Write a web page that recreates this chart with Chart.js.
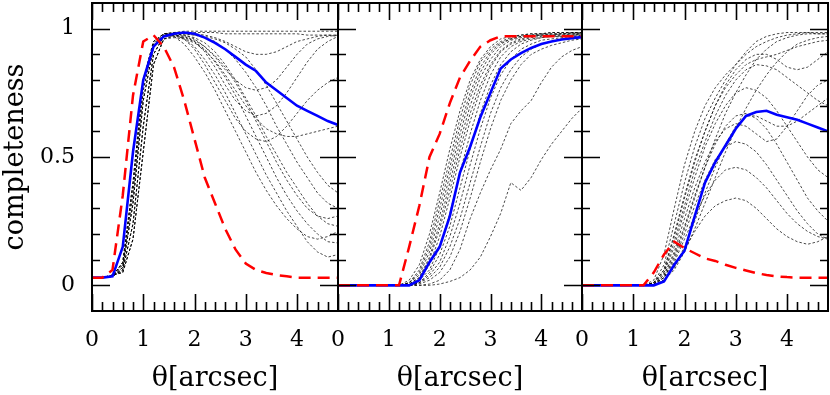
<!DOCTYPE html>
<html>
<head>
<meta charset="utf-8">
<script src="https://cdn.jsdelivr.net/npm/chart.js@4/dist/chart.umd.min.js"></script>
<style>
  html, body { margin: 0; padding: 0; background: #fff; }
  #wrap { position: relative; width: 830px; height: 395px; overflow: hidden; }
  canvas { position: absolute; top: 0; }
</style>
</head>
<body>
<div id="wrap">
  <canvas id="p1" width="356" height="395" style="left:0px"></canvas>
  <canvas id="p2" width="280" height="395" style="left:320px"></canvas>
  <canvas id="p3" width="266" height="395" style="left:564px"></canvas>
</div>
<script>
// separation grid (arcsec)
const X = [0, 0.2, 0.4, 0.6, 0.8, 1, 1.2, 1.4, 1.6, 1.8, 2, 2.2, 2.4, 2.6, 2.8, 3, 3.2, 3.4, 3.6, 3.8, 4, 4.2, 4.4, 4.6, 4.8];

const X_TICKS = [0, 1, 2, 3, 4];
const X_MINOR = [0, 0.2, 0.4, 0.6, 0.8, 1, 1.2, 1.4, 1.6, 1.8, 2, 2.2, 2.4, 2.6, 2.8, 3, 3.2, 3.4, 3.6, 3.8, 4, 4.2, 4.4, 4.6];
const Y_TICKS = [0, 0.5, 1];
const Y_MINOR = [0, 0.1, 0.2, 0.3, 0.4, 0.5, 0.6, 0.7, 0.8, 0.9, 1];

// panel 1
const P1_RED = [0.03, 0.03, 0.06, 0.35, 0.74, 0.95, 0.975, 0.93, 0.85, 0.72, 0.57, 0.42, 0.32, 0.22, 0.14, 0.085, 0.06, 0.048, 0.04, 0.035, 0.03, 0.03, 0.03, 0.03, 0.03];
const P1_BLUE = [0.03, 0.03, 0.035, 0.15, 0.52, 0.80, 0.93, 0.97, 0.98, 0.985, 0.98, 0.965, 0.945, 0.92, 0.89, 0.86, 0.835, 0.79, 0.76, 0.73, 0.70, 0.68, 0.66, 0.64, 0.625];
const P1_DOTTED = [
  [0.03, 0.03, 0.035, 0.09, 0.40, 0.80, 0.95, 0.98, 0.985, 0.99, 0.99, 0.99, 0.99, 0.99, 0.99, 0.99, 0.99, 0.99, 0.99, 0.99, 0.99, 0.99, 0.99, 0.99, 0.99],
  [0.03, 0.03, 0.035, 0.06, 0.24, 0.62, 0.90, 0.97, 0.98, 0.985, 0.985, 0.985, 0.985, 0.98, 0.98, 0.98, 0.98, 0.98, 0.98, 0.98, 0.98, 0.975, 0.975, 0.975, 0.97],
  [0.03, 0.03, 0.035, 0.07, 0.32, 0.72, 0.93, 0.975, 0.985, 0.985, 0.98, 0.975, 0.965, 0.95, 0.93, 0.91, 0.90, 0.90, 0.91, 0.93, 0.95, 0.96, 0.97, 0.975, 0.975],
  [0.03, 0.03, 0.04, 0.08, 0.36, 0.76, 0.94, 0.98, 0.98, 0.975, 0.96, 0.93, 0.89, 0.84, 0.80, 0.77, 0.76, 0.77, 0.80, 0.85, 0.90, 0.94, 0.96, 0.97, 0.975],
  [0.03, 0.03, 0.04, 0.05, 0.18, 0.52, 0.86, 0.96, 0.975, 0.97, 0.95, 0.91, 0.85, 0.78, 0.72, 0.68, 0.66, 0.67, 0.70, 0.75, 0.81, 0.87, 0.92, 0.95, 0.97],
  [0.03, 0.03, 0.035, 0.09, 0.40, 0.80, 0.95, 0.98, 0.98, 0.96, 0.92, 0.86, 0.79, 0.72, 0.65, 0.60, 0.57, 0.56, 0.58, 0.62, 0.67, 0.72, 0.76, 0.79, 0.81],
  [0.03, 0.03, 0.035, 0.07, 0.32, 0.72, 0.93, 0.975, 0.97, 0.94, 0.89, 0.83, 0.76, 0.68, 0.60, 0.52, 0.44, 0.37, 0.31, 0.26, 0.22, 0.19, 0.18, 0.19, 0.21],
  [0.03, 0.03, 0.035, 0.06, 0.24, 0.62, 0.90, 0.97, 0.975, 0.96, 0.93, 0.88, 0.82, 0.75, 0.67, 0.59, 0.51, 0.43, 0.36, 0.29, 0.23, 0.17, 0.13, 0.11, 0.12],
  [0.03, 0.03, 0.04, 0.05, 0.18, 0.52, 0.86, 0.96, 0.97, 0.965, 0.95, 0.92, 0.87, 0.81, 0.74, 0.66, 0.58, 0.50, 0.42, 0.35, 0.29, 0.24, 0.20, 0.17, 0.165],
  [0.03, 0.03, 0.04, 0.08, 0.36, 0.76, 0.94, 0.98, 0.98, 0.975, 0.965, 0.945, 0.91, 0.86, 0.80, 0.73, 0.66, 0.58, 0.51, 0.44, 0.38, 0.32, 0.27, 0.24, 0.23],
  [0.03, 0.03, 0.035, 0.09, 0.40, 0.80, 0.95, 0.98, 0.985, 0.98, 0.975, 0.965, 0.95, 0.92, 0.88, 0.83, 0.77, 0.70, 0.62, 0.55, 0.48, 0.42, 0.36, 0.32, 0.30],
  [0.03, 0.03, 0.035, 0.07, 0.32, 0.72, 0.93, 0.975, 0.98, 0.98, 0.975, 0.97, 0.96, 0.945, 0.92, 0.89, 0.84, 0.78, 0.71, 0.64, 0.57, 0.50, 0.44, 0.39, 0.36],
  [0.03, 0.03, 0.035, 0.06, 0.24, 0.62, 0.90, 0.97, 0.975, 0.97, 0.955, 0.93, 0.895, 0.85, 0.79, 0.72, 0.64, 0.56, 0.48, 0.41, 0.35, 0.30, 0.27, 0.26, 0.27],
  [0.03, 0.03, 0.04, 0.05, 0.18, 0.52, 0.86, 0.96, 0.965, 0.96, 0.945, 0.915, 0.875, 0.82, 0.76, 0.70, 0.65, 0.61, 0.59, 0.58, 0.58, 0.59, 0.60, 0.61, 0.62]
];

// panel 2
const P2_RED = [0, 0, 0, 0, 0, 0, 0, 0.15, 0.31, 0.50, 0.59, 0.71, 0.81, 0.875, 0.93, 0.955, 0.97, 0.97, 0.97, 0.97, 0.97, 0.97, 0.97, 0.97, 0.97];
const P2_BLUE = [0, 0, 0, 0, 0, 0, 0, 0, 0.02, 0.09, 0.15, 0.27, 0.44, 0.54, 0.655, 0.75, 0.845, 0.88, 0.905, 0.925, 0.94, 0.95, 0.958, 0.963, 0.967];
const P2_DOTTED = [
  [0, 0, 0, 0, 0, 0, 0, 0.02, 0.08, 0.20, 0.36, 0.53, 0.68, 0.80, 0.88, 0.93, 0.96, 0.97, 0.975, 0.98, 0.98, 0.985, 0.985, 0.985, 0.985],
  [0, 0, 0, 0, 0, 0, 0, 0.01, 0.06, 0.17, 0.33, 0.49, 0.65, 0.78, 0.87, 0.92, 0.95, 0.965, 0.975, 0.98, 0.98, 0.985, 0.985, 0.985, 0.985],
  [0, 0, 0, 0, 0, 0, 0, 0.01, 0.05, 0.15, 0.30, 0.46, 0.62, 0.75, 0.85, 0.91, 0.945, 0.96, 0.97, 0.975, 0.98, 0.98, 0.98, 0.985, 0.985],
  [0, 0, 0, 0, 0, 0, 0, 0.01, 0.04, 0.13, 0.27, 0.43, 0.59, 0.73, 0.83, 0.90, 0.94, 0.96, 0.97, 0.975, 0.975, 0.98, 0.98, 0.98, 0.98],
  [0, 0, 0, 0, 0, 0, 0, 0.005, 0.03, 0.11, 0.24, 0.40, 0.56, 0.70, 0.81, 0.88, 0.93, 0.955, 0.965, 0.97, 0.975, 0.975, 0.98, 0.98, 0.98],
  [0, 0, 0, 0, 0, 0, 0, 0.005, 0.03, 0.10, 0.22, 0.37, 0.53, 0.67, 0.78, 0.86, 0.915, 0.945, 0.96, 0.97, 0.975, 0.975, 0.975, 0.98, 0.98],
  [0, 0, 0, 0, 0, 0, 0, 0.005, 0.02, 0.08, 0.19, 0.34, 0.50, 0.64, 0.76, 0.85, 0.91, 0.94, 0.955, 0.965, 0.97, 0.975, 0.975, 0.975, 0.98],
  [0, 0, 0, 0, 0, 0, 0, 0, 0.02, 0.06, 0.15, 0.28, 0.44, 0.59, 0.72, 0.82, 0.89, 0.93, 0.95, 0.96, 0.965, 0.97, 0.97, 0.975, 0.975],
  [0, 0, 0, 0, 0, 0, 0, 0, 0.01, 0.05, 0.12, 0.23, 0.38, 0.53, 0.67, 0.78, 0.86, 0.91, 0.94, 0.955, 0.965, 0.97, 0.97, 0.97, 0.975],
  [0, 0, 0, 0, 0, 0, 0, 0, 0.01, 0.04, 0.09, 0.19, 0.32, 0.47, 0.61, 0.73, 0.82, 0.88, 0.92, 0.94, 0.955, 0.96, 0.965, 0.97, 0.97],
  [0, 0, 0, 0, 0, 0, 0, 0, 0.01, 0.03, 0.07, 0.15, 0.26, 0.40, 0.54, 0.67, 0.77, 0.84, 0.89, 0.92, 0.94, 0.95, 0.96, 0.965, 0.965],
  [0, 0, 0, 0, 0, 0, 0, 0, 0.005, 0.02, 0.05, 0.11, 0.21, 0.34, 0.48, 0.61, 0.72, 0.80, 0.86, 0.90, 0.92, 0.935, 0.945, 0.955, 0.96],
  [0, 0, 0, 0, 0, 0, 0, 0, 0, 0.005, 0.02, 0.06, 0.14, 0.26, 0.36, 0.45, 0.53, 0.63, 0.68, 0.72, 0.79, 0.85, 0.89, 0.915, 0.93],
  [0, 0, 0, 0, 0, 0, 0, 0, 0, 0, 0.005, 0.015, 0.03, 0.06, 0.11, 0.19, 0.28, 0.40, 0.37, 0.42, 0.49, 0.55, 0.60, 0.65, 0.69]
];

// panel 3
const P3_RED = [0, 0, 0, 0, 0, 0, 0, 0.05, 0.12, 0.17, 0.145, 0.125, 0.105, 0.095, 0.08, 0.068, 0.058, 0.048, 0.04, 0.035, 0.032, 0.03, 0.03, 0.03, 0.03];
const P3_BLUE = [0, 0, 0, 0, 0, 0, 0, 0, 0.015, 0.08, 0.135, 0.27, 0.40, 0.48, 0.545, 0.61, 0.66, 0.675, 0.68, 0.665, 0.655, 0.645, 0.63, 0.615, 0.60];
const P3_DOTTED = [
  [0, 0, 0, 0, 0, 0, 0, 0.02, 0.12, 0.30, 0.47, 0.60, 0.70, 0.77, 0.82, 0.86, 0.91, 0.95, 0.97, 0.98, 0.985, 0.985, 0.985, 0.98, 0.98],
  [0, 0, 0, 0, 0, 0, 0, 0.01, 0.08, 0.24, 0.40, 0.54, 0.65, 0.73, 0.80, 0.86, 0.90, 0.93, 0.95, 0.965, 0.975, 0.98, 0.985, 0.985, 0.985],
  [0, 0, 0, 0, 0, 0, 0, 0.01, 0.06, 0.20, 0.35, 0.49, 0.60, 0.70, 0.77, 0.82, 0.86, 0.88, 0.89, 0.90, 0.915, 0.93, 0.94, 0.95, 0.955],
  [0, 0, 0, 0, 0, 0, 0, 0.01, 0.05, 0.17, 0.31, 0.45, 0.56, 0.66, 0.74, 0.80, 0.84, 0.86, 0.855, 0.84, 0.81, 0.78, 0.75, 0.72, 0.70],
  [0, 0, 0, 0, 0, 0, 0, 0.01, 0.05, 0.15, 0.29, 0.42, 0.54, 0.63, 0.70, 0.75, 0.77, 0.76, 0.73, 0.68, 0.62, 0.56, 0.50, 0.45, 0.42],
  [0, 0, 0, 0, 0, 0, 0, 0.005, 0.04, 0.13, 0.26, 0.38, 0.48, 0.56, 0.61, 0.63, 0.62, 0.59, 0.56, 0.57, 0.62, 0.68, 0.74, 0.78, 0.80],
  [0, 0, 0, 0, 0, 0, 0, 0.005, 0.04, 0.12, 0.23, 0.35, 0.46, 0.55, 0.62, 0.66, 0.67, 0.65, 0.61, 0.55, 0.48, 0.41, 0.34, 0.29, 0.25],
  [0, 0, 0, 0, 0, 0, 0, 0.005, 0.03, 0.10, 0.20, 0.31, 0.41, 0.49, 0.54, 0.56, 0.55, 0.52, 0.47, 0.41, 0.35, 0.29, 0.24, 0.20, 0.18],
  [0, 0, 0, 0, 0, 0, 0, 0.005, 0.03, 0.09, 0.18, 0.27, 0.35, 0.41, 0.45, 0.46, 0.45, 0.42, 0.38, 0.33, 0.28, 0.24, 0.21, 0.19, 0.18],
  [0, 0, 0, 0, 0, 0, 0, 0.005, 0.02, 0.07, 0.14, 0.21, 0.27, 0.31, 0.33, 0.34, 0.33, 0.30, 0.26, 0.22, 0.19, 0.17, 0.16, 0.17, 0.19],
  [0, 0, 0, 0, 0, 0, 0, 0.005, 0.03, 0.11, 0.22, 0.34, 0.46, 0.57, 0.67, 0.75, 0.82, 0.88, 0.92, 0.95, 0.965, 0.975, 0.98, 0.98, 0.98],
  [0, 0, 0, 0, 0, 0, 0, 0, 0.02, 0.06, 0.13, 0.22, 0.32, 0.42, 0.52, 0.61, 0.69, 0.76, 0.82, 0.87, 0.91, 0.94, 0.955, 0.965, 0.97],
  [0, 0, 0, 0, 0, 0, 0, 0, 0.02, 0.07, 0.15, 0.25, 0.36, 0.46, 0.55, 0.62, 0.66, 0.66, 0.64, 0.62, 0.62, 0.64, 0.67, 0.70, 0.73],
  [0, 0, 0, 0, 0, 0, 0, 0.01, 0.06, 0.19, 0.34, 0.48, 0.60, 0.70, 0.78, 0.84, 0.88, 0.90, 0.90, 0.88, 0.85, 0.84, 0.85, 0.88, 0.91]
];

const RED = "#ff0000";
const BLUE = "#0000ff";
const DOT = "rgba(0, 0, 0, 0.8)";

Chart.defaults.font.family = "'DejaVu Serif', serif";
Chart.defaults.color = "#000";

function toPoints(ys) {
  return ys.map((y, i) => ({ x: X[i], y: y }));
}

// frame + inward ticks on all four sides
const frameTicks = {
  id: "frameTicks",
  afterDraw(chart) {
    const { ctx, chartArea: a } = chart;
    const xs = chart.scales.x;
    const ys = chart.scales.y;
    ctx.save();
    ctx.strokeStyle = "#000";
    ctx.lineWidth = 1.6;
    ctx.beginPath();
    X_MINOR.forEach((v) => {
      const px = Math.round(xs.getPixelForValue(v)) + 0.5;
      const len = X_TICKS.includes(v) ? 17 : 9;
      ctx.moveTo(px, a.bottom);
      ctx.lineTo(px, a.bottom - len);
      ctx.moveTo(px, a.top);
      ctx.lineTo(px, a.top + len);
    });
    Y_MINOR.forEach((v) => {
      const py = Math.round(ys.getPixelForValue(v)) + 0.5;
      const len = Y_TICKS.includes(v) ? 18 : 8;
      ctx.moveTo(a.left, py);
      ctx.lineTo(a.left + len, py);
      ctx.moveTo(a.right, py);
      ctx.lineTo(a.right - len, py);
    });
    ctx.stroke();
    ctx.lineWidth = 2;
    ctx.strokeRect(a.left, a.top, a.right - a.left, a.bottom - a.top);
    ctx.restore();
  },
};

function buildDatasets(red, blue, dotted) {
  const sets = [
    { data: toPoints(red), borderColor: RED, borderWidth: 2.5, borderDash: [12, 7] },
    { data: toPoints(blue), borderColor: BLUE, borderWidth: 2.6 },
  ];
  dotted.forEach((d) => {
    sets.push({ data: toPoints(d), borderColor: DOT, borderWidth: 0.9, borderDash: [2.5, 2] });
  });
  return sets;
}

function makePanel(id, red, blue, dotted, padLeft, padRight, showY) {
  new Chart(document.getElementById(id), {
    type: "line",
    data: { datasets: buildDatasets(red, blue, dotted) },
    options: {
      responsive: false,
      animation: false,
      elements: { point: { radius: 0 }, line: { tension: 0, fill: false } },
      layout: { padding: { left: padLeft, right: padRight, top: 3, bottom: 0 } },
      scales: {
        x: {
          type: "linear",
          min: 0,
          max: 4.8,
          grid: { display: false, drawTicks: false },
          border: { display: false },
          afterBuildTicks: (s) => { s.ticks = X_TICKS.map((v) => ({ value: v })); },
          afterFit: (s) => {
            s.height = 84;
            s.paddingLeft = 0;
            s.paddingRight = 0;
          },
          ticks: {
            padding: 16,
            maxRotation: 0,
            autoSkip: false,
            font: { size: 22 },
            callback: (v) => String(v),
          },
          title: {
            display: true,
            text: "θ[arcsec]",
            font: { size: 27, lineHeight: 1.2 },
            padding: 0,
          },
        },
        y: {
          type: "linear",
          min: -0.1,
          max: 1.1,
          display: showY,
          grid: { display: false, drawTicks: false },
          border: { display: false },
          afterBuildTicks: (s) => { s.ticks = Y_TICKS.map((v) => ({ value: v })); },
          afterFit: (s) => {
            s.width = showY ? 92 : 0;
            s.paddingTop = 0;
            s.paddingBottom = 0;
          },
          ticks: {
            padding: 17,
            font: { size: 22 },
            callback: (v) => String(v),
          },
          title: {
            display: true,
            text: "completeness",
            font: { size: 27, lineHeight: 1.2 },
            padding: 0,
          },
        },
      },
      plugins: { legend: { display: false }, tooltip: { enabled: false } },
    },
    plugins: [frameTicks],
  });
}

makePanel("p1", P1_RED, P1_BLUE, P1_DOTTED, 0, 18, true);
makePanel("p2", P2_RED, P2_BLUE, P2_DOTTED, 18, 18, false);
makePanel("p3", P3_RED, P3_BLUE, P3_DOTTED, 18, 2, false);
</script>
</body>
</html>
